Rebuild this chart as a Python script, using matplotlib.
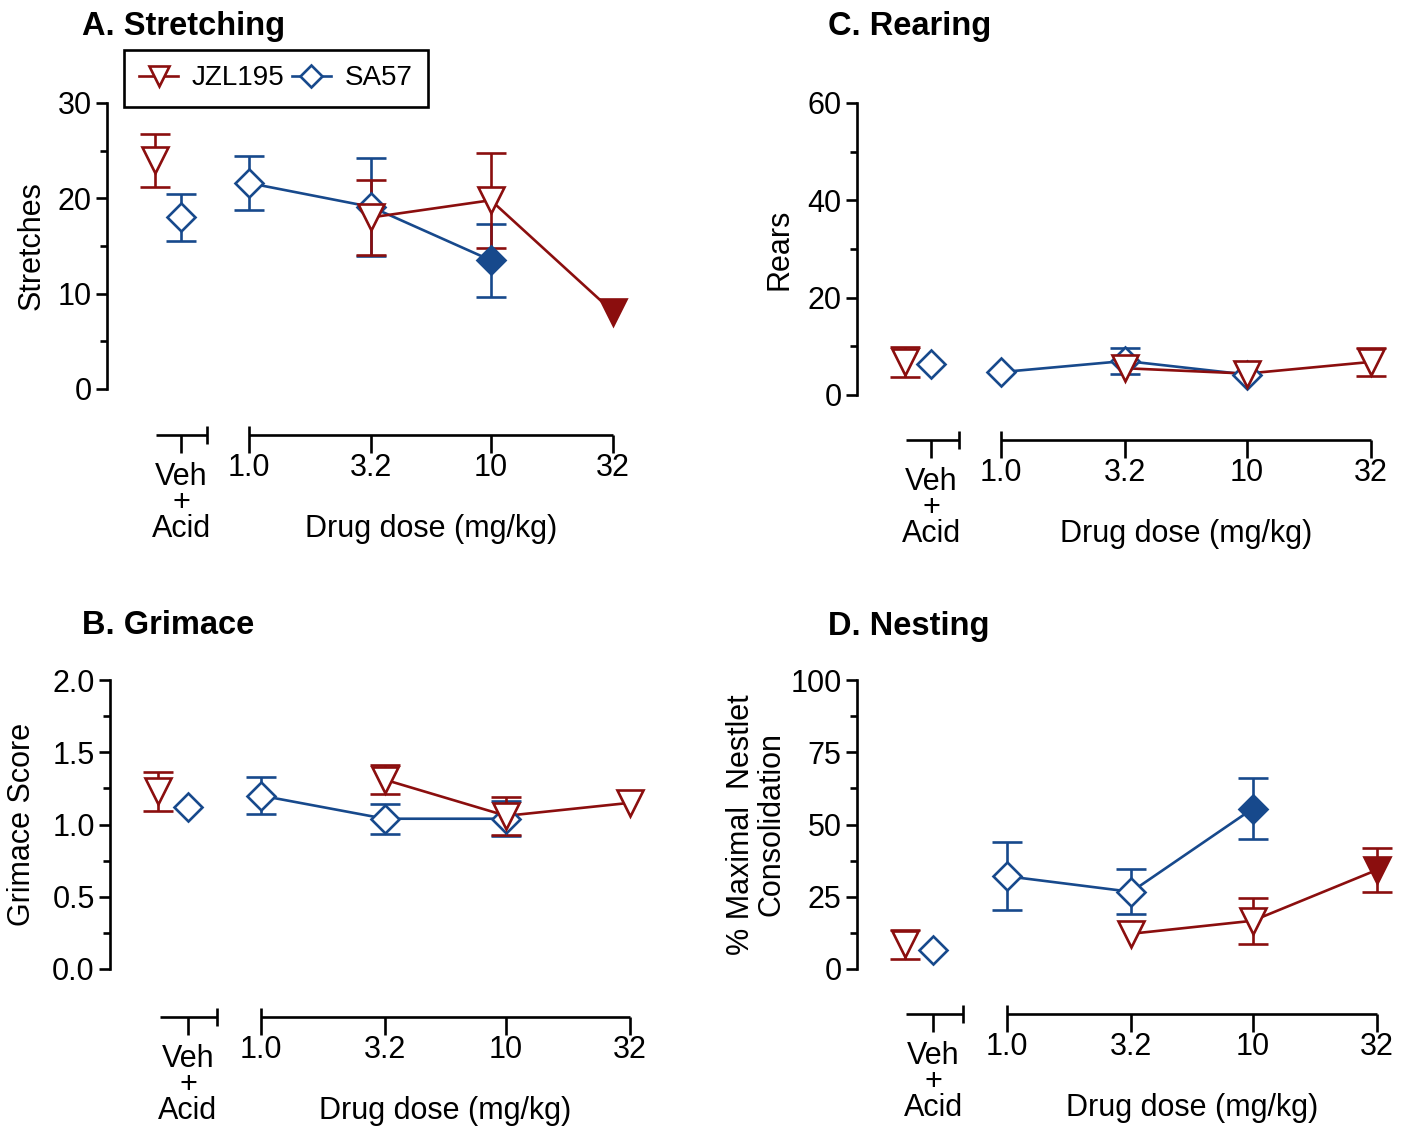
import matplotlib
matplotlib.use("Agg")
import matplotlib.pyplot as plt
from matplotlib.lines import Line2D
import numpy as np

plt.rcParams['font.family'] = ['Liberation Sans', 'DejaVu Sans']

W, H = 1408, 1131
RED = '#8B0E0E'
BLUE = '#17498C'

doses = [1.0, 3.2, 10, 32]
dose_labels = ['1.0', '3.2', '10', '32']
nan = np.nan

# mean values; SEM given as nan where the bar is hidden behind the symbol
# A. Stretching
stretch_jzl = [nan, 18.0, 19.8, 8.1]
stretch_jzl_sem = [nan, 3.9, 5.0, nan]
stretch_jzl_sig = [False, False, False, True]
stretch_jzl_veh = [24.0, 2.8]
stretch_sa = [21.6, 19.1, 13.5, nan]
stretch_sa_sem = [2.8, 5.1, 3.85, nan]
stretch_sa_sig = [False, False, True, False]
stretch_sa_veh = [18.0, 2.5]

# B. Grimace
grim_jzl = [nan, 1.31, 1.06, 1.15]
grim_jzl_sem = [nan, 0.10, 0.13, nan]
grim_jzl_sig = [False, False, False, False]
grim_jzl_veh = [1.23, 0.135]
grim_sa = [1.20, 1.04, 1.04, nan]
grim_sa_sem = [0.13, 0.105, 0.12, nan]
grim_sa_sig = [False, False, False, False]
grim_sa_veh = [1.12, nan]

# C. Rearing
rear_jzl = [nan, 5.5, 4.4, 6.8]
rear_jzl_sem = [nan, nan, nan, 2.9]
rear_jzl_sig = [False, False, False, False]
rear_jzl_veh = [6.8, 3.0]
rear_sa = [4.7, 7.0, 4.2, nan]
rear_sa_sem = [nan, 2.7, nan, nan]
rear_sa_sig = [False, False, False, False]
rear_sa_veh = [6.4, nan]

# D. Nesting
nest_jzl = [nan, 12.2, 16.7, 34.3]
nest_jzl_sem = [nan, nan, 7.9, 7.6]
nest_jzl_sig = [False, False, False, True]
nest_jzl_veh = [8.5, 5.0]
nest_sa = [32.1, 26.7, 55.5, nan]
nest_sa_sem = [11.7, 7.8, 10.5, nan]
nest_sa_sig = [False, False, True, False]
nest_sa_veh = [6.7, nan]

FS = 22
LW = 1.9
fig = plt.figure(figsize=(W / 100, H / 100), dpi=100)


def panel(px, ylim, major, minor, fmt, title, title_xy, ylabel, ylab_x, axis_y, veh_off,
          jzl, jzl_sem, jzl_sig, jzl_veh, sa, sa_sem, sa_sig, sa_veh):
    spine_x, x1, x32, y0, ytop = px
    ppd = (x32 - x1) / np.log10(32)
    right = x32 + 30
    ax = fig.add_axes([spine_x / W, 1 - y0 / H, (right - spine_x) / W, (y0 - ytop) / H])
    ax.set_xlim((spine_x - x1) / ppd, (right - x1) / ppd)
    ax.set_ylim(*ylim)
    ax.patch.set_alpha(0)
    for s in ['top', 'right', 'bottom']:
        ax.spines[s].set_visible(False)
    ax.spines['left'].set_linewidth(LW)
    ax.set_xticks([])
    ax.set_yticks(major)
    ax.set_yticks(minor, minor=True)
    ax.set_yticklabels([fmt.format(v) for v in major], fontsize=FS)
    ax.tick_params(axis='y', which='major', length=8, width=LW, pad=3)
    ax.tick_params(axis='y', which='minor', length=5, width=LW)

    def tox(off):
        return (spine_x + off - x1) / ppd

    jzl_vx, sa_vx, seg_l, seg_r = [tox(o) for o in veh_off]
    lx = np.log10(doses)

    for vals, sems, sig, veh, vx, col, mk, ms in [
            (sa, sa_sem, sa_sig, sa_veh, sa_vx, BLUE, 'D', 14),
            (jzl, jzl_sem, jzl_sig, jzl_veh, jzl_vx, RED, 'v', 19)]:
        vals = np.array(vals, dtype=float)
        sems = np.array(sems, dtype=float)
        ok = ~np.isnan(vals)
        ax.plot(lx[ok], vals[ok], color=col, lw=LW, zorder=2, clip_on=False)
        xs = np.array(list(lx[ok]) + [vx])
        ys = np.array(list(vals[ok]) + [veh[0]])
        es = np.array(list(sems[ok]) + [veh[1]])
        fills = list(np.array(sig)[ok]) + [False]
        has = ~np.isnan(es)
        ax.errorbar(xs[has], ys[has], yerr=es[has], fmt='none', ecolor=col,
                    elinewidth=LW, capsize=10.5, capthick=LW, zorder=2, clip_on=False)
        for x, y, f in zip(xs, ys, fills):
            ax.plot(x, y, marker=mk, ms=ms, mec=col, mew=LW,
                    mfc=col if f else 'white', zorder=3, clip_on=False)

    # custom x axis below the plot
    hpx = y0 - ytop
    ay = -(axis_y - y0) / hpx
    t = 18 / hpx
    u = 9 / hpx
    tr = ax.get_xaxis_transform()
    kw = dict(color='black', lw=LW, transform=tr, clip_on=False, solid_capstyle='butt')
    ax.plot([seg_l, seg_r], [ay, ay], **kw)
    ax.plot([sa_vx, sa_vx], [ay, ay - t], **kw)
    ax.plot([seg_r, seg_r], [ay + u, ay - u], **kw)
    ax.plot([lx[0], lx[-1]], [ay, ay], **kw)
    ax.plot([lx[0], lx[0]], [ay + u, ay - t], **kw)
    for x in lx[1:]:
        ax.plot([x, x], [ay, ay - t], **kw)
    for x, lab in zip(lx, dose_labels):
        ax.text(x, ay - 33 / hpx, lab, transform=tr, ha='center', va='center', fontsize=FS)
    ax.text(sa_vx, ay - 68 / hpx, 'Veh\n+\nAcid', transform=tr, ha='center',
            va='center', fontsize=FS, linespacing=0.83)
    ax.text((lx[0] + lx[-1]) / 2, ay - 94 / hpx, 'Drug dose (mg/kg)', transform=tr,
            ha='center', va='center', fontsize=FS)

    fig.text(title_xy[0] / W, 1 - title_xy[1] / H, title, fontsize=23.5,
             fontweight='bold', ha='left', va='center')
    ycen = 1 - (y0 + ytop) / 2 / H
    fig.text(ylab_x / W, ycen, ylabel, rotation=90, fontsize=FS, ha='center',
             va='center', linespacing=1.0)
    return ax


panel((107, 249, 613, 389, 103), (0, 30), [0, 10, 20, 30], [5, 15, 25], '{:g}',
      'A. Stretching', (82, 26), 'Stretches', 32, 435, (48, 74, 49, 100),
      stretch_jzl, stretch_jzl_sem, stretch_jzl_sig, stretch_jzl_veh,
      stretch_sa, stretch_sa_sem, stretch_sa_sig, stretch_sa_veh)

panel((857, 1001, 1371, 395, 103), (0, 60), [0, 20, 40, 60], [10, 30, 50], '{:g}',
      'C. Rearing', (828, 26), 'Rears', 780, 440, (48, 74, 49, 102),
      rear_jzl, rear_jzl_sem, rear_jzl_sig, rear_jzl_veh,
      rear_sa, rear_sa_sem, rear_sa_sig, rear_sa_veh)

panel((110, 261, 630, 969, 680), (0, 2), [0, 0.5, 1.0, 1.5, 2.0], [0.25, 0.75, 1.25, 1.75],
      '{:.1f}', 'B. Grimace', (82, 626), 'Grimace Score', 22, 1017, (48, 78, 50, 107),
      grim_jzl, grim_jzl_sem, grim_jzl_sig, grim_jzl_veh,
      grim_sa, grim_sa_sem, grim_sa_sig, grim_sa_veh)

panel((857, 1007, 1377, 969, 680), (0, 100), [0, 25, 50, 75, 100], [12.5, 37.5, 62.5, 87.5],
      '{:g}', 'D. Nesting', (828, 626), '% Maximal  Nestlet\nConsolidation', 756, 1014,
      (48, 76, 49, 106),
      nest_jzl, nest_jzl_sem, nest_jzl_sig, nest_jzl_veh,
      nest_sa, nest_sa_sem, nest_sa_sig, nest_sa_veh)

handles = [Line2D([], [], color=RED, marker='v', ms=15, mfc='white', mew=LW, lw=LW),
           Line2D([], [], color=BLUE, marker='D', ms=11, mfc='white', mew=LW, lw=LW)]
leg = fig.legend(handles, ['JZL195', 'SA57'], loc='upper left',
                 bbox_to_anchor=(124 / W, 1 - 50 / H), ncol=2, fontsize=20,
                 frameon=True, fancybox=False, edgecolor='black', framealpha=1,
                 handlelength=1.4, handletextpad=0.5, columnspacing=0.25,
                 borderpad=0.55, borderaxespad=0)
leg.get_frame().set_linewidth(LW)

fig.savefig('out.png', dpi=100)
